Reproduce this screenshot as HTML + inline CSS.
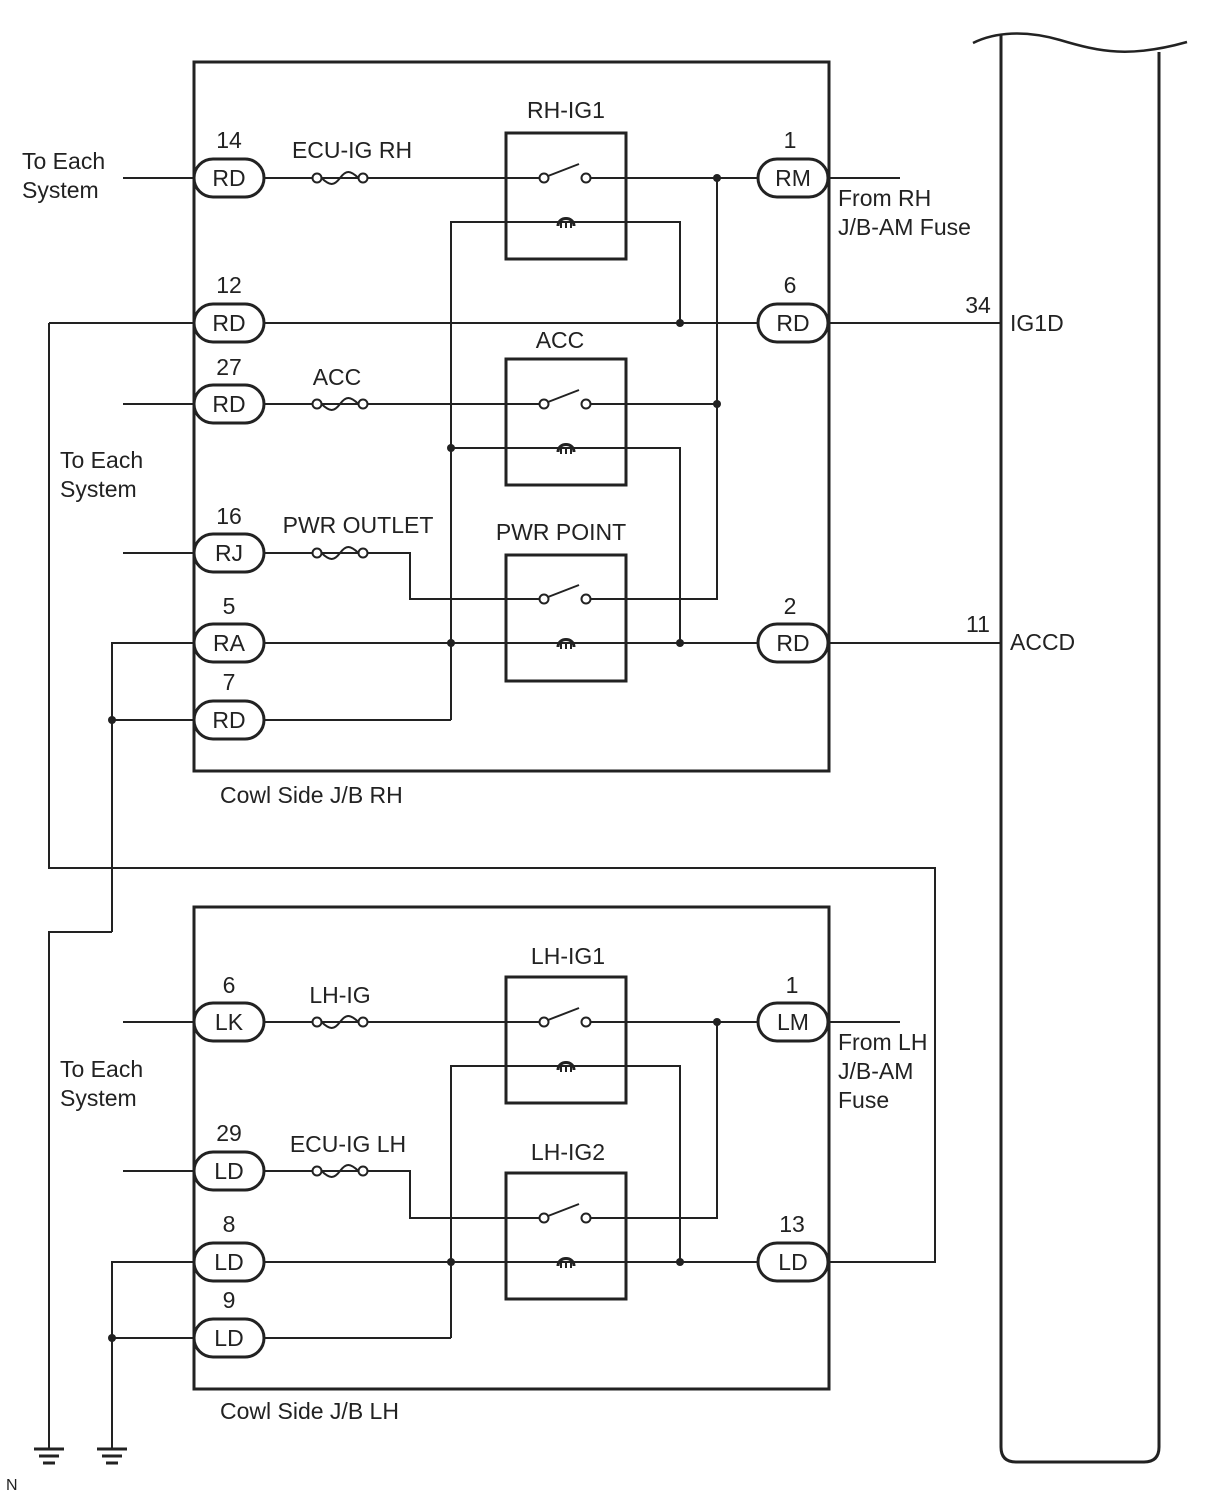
<!DOCTYPE html>
<html><head><meta charset="utf-8"><style>
html,body{margin:0;padding:0;background:#fff}
svg{display:block}
text{font-family:"Liberation Sans",sans-serif;font-size:23px;fill:#222}
</style></head><body>
<svg width="1210" height="1498" viewBox="0 0 1210 1498" xmlns="http://www.w3.org/2000/svg">
<defs>
<g id="fuse"><circle cx="-23" cy="0" r="4.5" fill="#fff" stroke="#222" stroke-width="2"/><circle cx="23" cy="0" r="4.5" fill="#fff" stroke="#222" stroke-width="2"/><path d="M-18.5 0 C-10 8 -6 8 0 0 C6 -8 10 -8 18.5 0" fill="none" stroke="#222" stroke-width="2"/></g>
<g id="relay"><rect x="506" y="0" width="120" height="126" fill="none" stroke="#222" stroke-width="3"/></g>
<g id="sw"><circle cx="544" cy="0" r="4.5" fill="#fff" stroke="#222" stroke-width="2"/><circle cx="586" cy="0" r="4.5" fill="#fff" stroke="#222" stroke-width="2"/><line x1="548" y1="-2" x2="579" y2="-14" stroke="#222" stroke-width="2"/></g>
<g id="coil"><path d="M558 4 C558 -6 574 -6 574 4" fill="none" stroke="#222" stroke-width="3"/><path d="M561 1 v5 M566 1 v5 M571 1 v5" stroke="#222" stroke-width="2"/></g>
<g id="pill"><rect x="-35" y="-19" width="70" height="38" rx="19" fill="#fff" stroke="#222" stroke-width="3"/></g>
</defs>
<g stroke="#222" stroke-width="2" fill="none">
<rect x="194" y="62" width="635" height="709" stroke-width="3"/>
<rect x="194" y="907" width="635" height="482" stroke-width="3"/>
<path d="M973 43 C995 32 1025 30 1060 40 C1100 52 1130 58 1187 42" stroke-width="2.5"/>
<path d="M1001 34 V1447 Q1001 1462 1016 1462 H1144 Q1159 1462 1159 1447 V52" stroke-width="3"/>
<path d="M123 178 H194 M264 178 H539 M591 178 H758 M829 178 H900"/>
<path d="M717 178 V599 H591"/>
<path d="M49 323 H194 M264 323 H758 M829 323 H1001"/>
<path d="M123 404 H194 M264 404 H539 M591 404 H717"/>
<path d="M123 553 H194 M264 553 H410 V599 H539"/>
<path d="M451 720 V222 H680 V323 M451 448 H680 V643"/>
<path d="M112 932 V643 H194 M264 643 H758 M829 643 H1001"/>
<path d="M112 720 H194 M264 720 H451"/>
<path d="M49 323 V868 H935 V1262 H829"/>
<path d="M112 932 H49 V1448"/>
<path d="M123 1022 H194 M264 1022 H539 M591 1022 H758 M829 1022 H900"/>
<path d="M717 1022 V1218 H591"/>
<path d="M123 1171 H194 M264 1171 H410 V1218 H539"/>
<path d="M451 1338 V1066 H680 V1262"/>
<path d="M112 1448 V1262 H194 M264 1262 H758"/>
<path d="M112 1338 H194 M264 1338 H451"/>
<path d="M34 1449 H64 M39 1456 H59 M43 1463 H55" stroke-width="3"/>
<path d="M97 1449 H127 M102 1456 H122 M106 1463 H118" stroke-width="3"/>
</g>
<use href="#relay" y="133"/><use href="#relay" y="359"/><use href="#relay" y="555"/>
<use href="#relay" y="977"/><use href="#relay" y="1173"/>
<use href="#sw" y="178"/><use href="#sw" y="404"/><use href="#sw" y="599"/><use href="#sw" y="1022"/><use href="#sw" y="1218"/>
<use href="#coil" y="222"/><use href="#coil" y="448"/><use href="#coil" y="643"/><use href="#coil" y="1066"/><use href="#coil" y="1262"/>
<use href="#fuse" x="340" y="178"/><use href="#fuse" x="340" y="404"/><use href="#fuse" x="340" y="553"/><use href="#fuse" x="340" y="1022"/><use href="#fuse" x="340" y="1171"/>
<g fill="#222">
<circle cx="717" cy="178" r="4"/><circle cx="717" cy="404" r="4"/><circle cx="680" cy="323" r="4"/>
<circle cx="451" cy="448" r="4"/><circle cx="451" cy="643" r="4"/><circle cx="680" cy="643" r="4"/>
<circle cx="112" cy="720" r="4"/>
<circle cx="717" cy="1022" r="4"/><circle cx="451" cy="1262" r="4"/><circle cx="680" cy="1262" r="4"/><circle cx="112" cy="1338" r="4"/>
</g>
<g text-anchor="middle">
<use href="#pill" x="229" y="178"/><text x="229" y="186">RD</text><text x="229" y="148">14</text>
<use href="#pill" x="229" y="323"/><text x="229" y="331">RD</text><text x="229" y="293">12</text>
<use href="#pill" x="229" y="404"/><text x="229" y="412">RD</text><text x="229" y="375">27</text>
<use href="#pill" x="229" y="553"/><text x="229" y="561">RJ</text><text x="229" y="524">16</text>
<use href="#pill" x="229" y="643"/><text x="229" y="651">RA</text><text x="229" y="614">5</text>
<use href="#pill" x="229" y="720"/><text x="229" y="728">RD</text><text x="229" y="690">7</text>
<use href="#pill" x="793" y="178"/><text x="793" y="186">RM</text><text x="790" y="148">1</text>
<use href="#pill" x="793" y="323"/><text x="793" y="331">RD</text><text x="790" y="293">6</text>
<use href="#pill" x="793" y="643"/><text x="793" y="651">RD</text><text x="790" y="614">2</text>
<use href="#pill" x="229" y="1022"/><text x="229" y="1030">LK</text><text x="229" y="993">6</text>
<use href="#pill" x="229" y="1171"/><text x="229" y="1179">LD</text><text x="229" y="1141">29</text>
<use href="#pill" x="229" y="1262"/><text x="229" y="1270">LD</text><text x="229" y="1232">8</text>
<use href="#pill" x="229" y="1338"/><text x="229" y="1346">LD</text><text x="229" y="1308">9</text>
<use href="#pill" x="793" y="1022"/><text x="793" y="1030">LM</text><text x="792" y="993">1</text>
<use href="#pill" x="793" y="1262"/><text x="793" y="1270">LD</text><text x="792" y="1232">13</text>
<text x="566" y="118">RH-IG1</text><text x="560" y="348">ACC</text><text x="561" y="540">PWR POINT</text>
<text x="568" y="964">LH-IG1</text><text x="568" y="1160">LH-IG2</text>
<text x="352" y="158">ECU-IG RH</text><text x="337" y="385">ACC</text><text x="358" y="533">PWR OUTLET</text>
<text x="340" y="1003">LH-IG</text><text x="348" y="1152">ECU-IG LH</text>
<text x="978" y="313">34</text><text x="978" y="632">11</text>
</g>
<text x="22" y="169">To Each</text><text x="22" y="198">System</text>
<text x="60" y="468">To Each</text><text x="60" y="497">System</text>
<text x="60" y="1077">To Each</text><text x="60" y="1106">System</text>
<text x="838" y="206">From RH</text><text x="838" y="235">J/B-AM Fuse</text>
<text x="838" y="1050">From LH</text><text x="838" y="1079">J/B-AM</text><text x="838" y="1108">Fuse</text>
<text x="1010" y="331">IG1D</text><text x="1010" y="650">ACCD</text>
<text x="220" y="803">Cowl Side J/B RH</text><text x="220" y="1419">Cowl Side J/B LH</text>
<text x="6" y="1490" style="font-size:16px">N</text>
</svg>
</body></html>
